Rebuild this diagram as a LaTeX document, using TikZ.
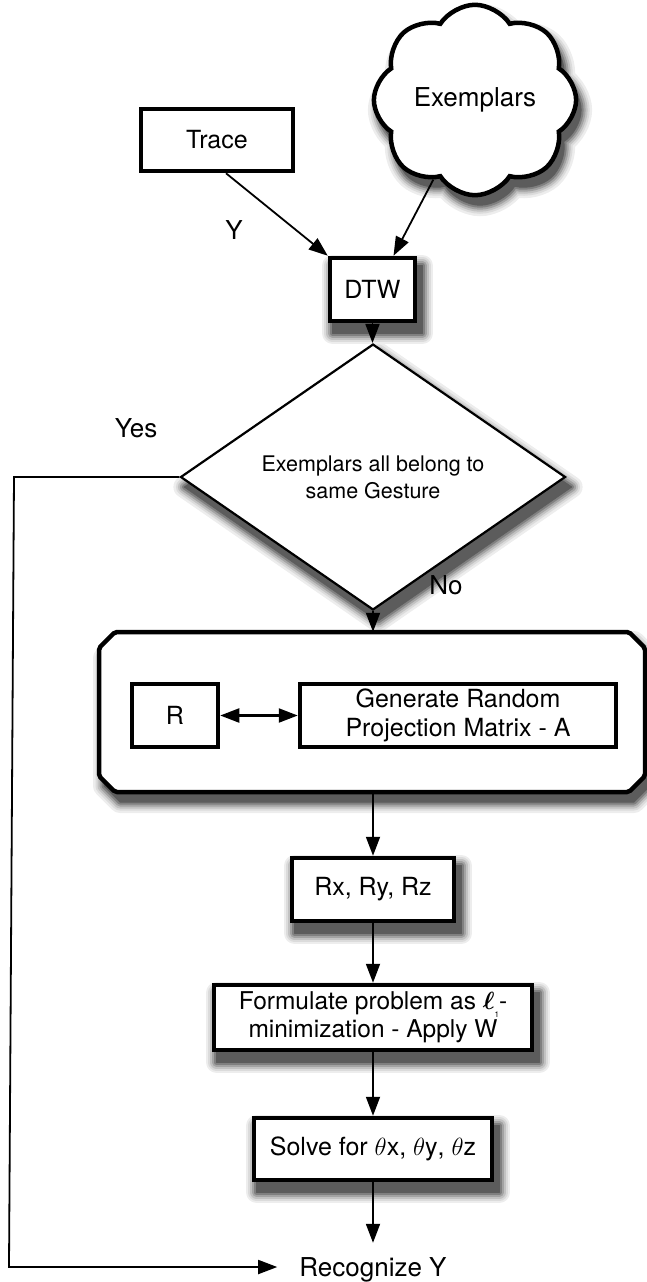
\documentclass[tikz,border=0pt]{standalone}
\usepackage{fontspec}
\setmainfont{TeX Gyre Heros}
\usetikzlibrary{shapes.geometric,shapes.symbols,arrows.meta}
\pgfdeclarelayer{shadowlayer}
\pgfsetlayers{shadowlayer,main}
\begin{document}
\begin{tikzpicture}[x=1pt,y=-1pt,
  box/.style={draw, line width=4.5pt, fill=white, inner sep=0pt, align=center, font=\fontsize{25}{29}\selectfont},
  cloudshape/.style={cloud, cloud puffs=8, cloud puff arc=115, aspect=1.1, minimum width=194pt, minimum height=172pt,
     inner sep=3pt, font=\fontsize{26}{30}\selectfont},
  tip/.tip={Triangle[length=19pt,width=14pt,fill=black]},
  arr/.style={-tip, line width=1.8pt, draw=black},
  darr/.style={tip-tip, line width=2.2pt, draw=black},
  lbl/.style={font=\fontsize{26}{30}\selectfont, inner sep=0pt}
]
\useasboundingbox (0,0) rectangle (647,1282);

\node[box, minimum width=152pt, minimum height=62pt] (trace) at (217,140) {Trace};
\node[cloudshape, draw, line width=4.5pt, fill=white] (cloud) at (475,100) {Exemplars};
\node[box, minimum width=85pt, minimum height=63pt] (dtw) at (372.5,289.5) {DTW};
\node[diamond, draw, line width=2.2pt, fill=white, inner sep=0pt, minimum width=385pt, minimum height=182pt,
      align=center, font=\fontsize{21.5}{27}\selectfont] (dia) at (373,477) {Exemplars all belong to\\same Gesture};
\node[inner sep=0pt, minimum width=546pt, minimum height=160pt] (big) at (372,712) {};
\path[draw, line width=4.5pt, fill=white, rounded corners=2pt]
  (115,632) -- (629,632) -- (645,648) -- (645,776) -- (629,792) -- (115,792) -- (99,776) -- (99,648) -- cycle;
\node[box, minimum width=86pt, minimum height=63pt] (r) at (175,715.5) {R};
\node[box, minimum width=316pt, minimum height=63pt] (gen) at (458,715.5) {Generate Random\\Projection Matrix - A};
\node[box, minimum width=162pt, minimum height=63pt] (rx) at (373,889.5) {Rx, Ry, Rz};
\node[box, minimum width=318pt, minimum height=65pt, font=\fontsize{24.5}{28}\selectfont] (form) at (373,1017.5)
  {Formulate problem as {\boldmath$\ell$}\raisebox{-8pt}{\fontsize{8}{8}\selectfont 1}-\\minimization - Apply W};
\node[box, minimum width=238pt, minimum height=62pt] (solve) at (373,1149)
  {Solve for $\theta\mathrm{x}$, $\theta\mathrm{y}$, $\theta\mathrm{z}$};
\node[lbl, inner xsep=22pt, inner ysep=14pt, text height=19pt, text depth=0pt] (rec) at (373,1266.5) {Recognize Y};

\node[lbl] (ylab) at (234,230) {Y};
\node[lbl] (yes) at (136,428) {Yes};
\node[lbl] (no) at (446,585) {No};

% soft drop shadows, drawn behind everything
\begin{pgfonlayer}{shadowlayer}
\foreach \w/\c in {22/7,17/14,13/24,9/36,5/50,1/64} {
  \foreach \n in {dtw,rx,form,solve} {
    \draw[draw=black!\c, fill=black!\c, line width=\w pt, line join=round]
      ([shift={(5,10)}]\n.north west) rectangle ([shift={(5,10)}]\n.south east);
  }
  \draw[draw=black!\c, fill=black!\c, line width=\w pt, line join=round]
    ([shift={(5,10)}]dia.north) -- ([shift={(5,10)}]dia.east) -- ([shift={(5,10)}]dia.south) -- ([shift={(5,10)}]dia.west) -- cycle;
  \draw[draw=black!\c, fill=black!\c, line width=\w pt, line join=round, shift={(5,10)}]
    (115,632) -- (629,632) -- (645,648) -- (645,776) -- (629,792) -- (115,792) -- (99,776) -- (99,648) -- cycle;
  \node[cloudshape, draw=black!\c, fill=black!\c, line width=\w pt] at ([shift={(5,10)}]cloud.center) {\phantom{Exemplars}};
}
\end{pgfonlayer}

\draw[arr] ([xshift=9pt]trace.south) -- (dtw.north west);
\draw[arr] (cloud) -- ([xshift=21pt]dtw.north);
\draw[arr] (dtw.south) -- (dtw.south |- dia.north);
\draw[arr] (dia.south) -- (dia.south |- big.north);
\draw[darr] (r.east) -- (gen.west);
\draw[arr] (big.south -| rx.north) -- (rx.north);
\draw[arr] (rx.south) -- (form.north);
\draw[arr] (form.south) -- (solve.north);
\draw[arr] (solve.south) -- (rec.north);
\coordinate (c1) at (14,477);
\coordinate (c2) at (9,1267);
\draw[arr] (dia.west) -- (c1) -- (c2) -- (c2 -| rec.west);
\end{tikzpicture}
\end{document}
